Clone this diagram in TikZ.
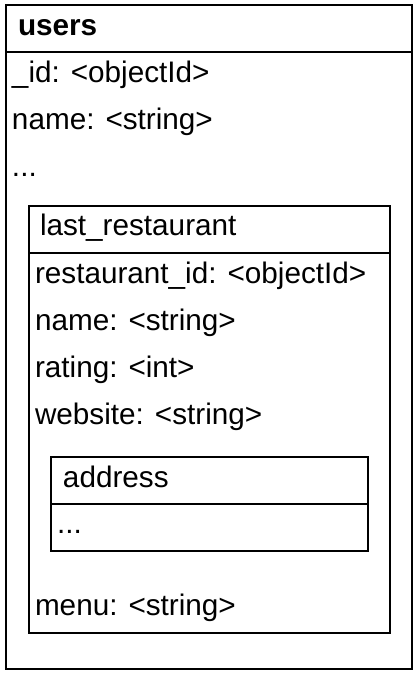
\documentclass[tikz,border=0pt]{standalone}
\usepackage{fontspec}
\setmainfont{Liberation Sans}
\begin{document}
\begin{tikzpicture}[x=1pt,y=-1pt,
  frame/.style={draw=black,line width=2pt,line join=miter},
  txt/.style={anchor=base west,inner sep=0pt,outer sep=0pt,font=\fontsize{29.7}{36}\selectfont},
  ttl/.style={txt,font=\fontsize{29.7}{36}\selectfont\bfseries}]
\useasboundingbox (0,0) rectangle (417,681);
\fill[white] (0,0) rectangle (417,681);
% users box
\draw[frame] (6,5) rectangle (412,669);
\draw[frame] (6,52) -- (412,52);
\node[ttl] (users) at (18,35) {users};
\node[txt] (uid) at (12,82) {\_id: <objectId>};
\node[txt] (uname) at (12,129) {name: <string>};
\node[txt] (udots) at (12,176) {...};
% last_restaurant box
\draw[frame] (29,206) rectangle (390,633);
\draw[frame] (29,253) -- (390,253);
\node[txt] (lr) at (40,235) {last\_restaurant};
\node[txt] (rid) at (35,283) {restaurant\_id: <objectId>};
\node[txt] (rname) at (35,330) {name: <string>};
\node[txt] (rrating) at (35,377) {rating: <int>};
\node[txt] (rweb) at (35,424) {website: <string>};
% address box
\draw[frame] (51,457) rectangle (368,551);
\draw[frame] (51,504) -- (368,504);
\node[txt] (addr) at (63,487) {address};
\node[txt] (adots) at (57,533) {...};
\node[txt] (menu) at (35,615) {menu: <string>};
\end{tikzpicture}
\end{document}
